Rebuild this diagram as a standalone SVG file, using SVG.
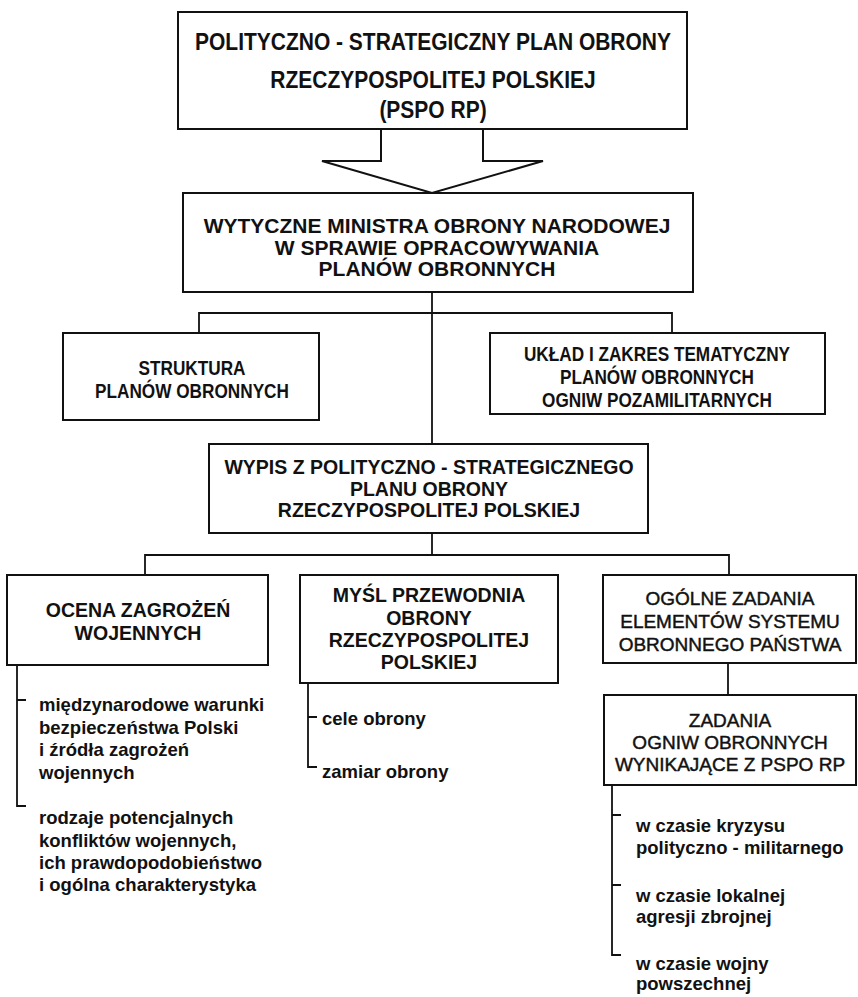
<svg xmlns="http://www.w3.org/2000/svg" width="858" height="997" viewBox="0 0 858 997">
<style>
.box{fill:#fff;stroke:#111;stroke-width:2}
.conn{fill:none;stroke:#111;stroke-width:1.8}
.h{font-family:"Liberation Sans",Arial,sans-serif;font-weight:bold;fill:#111;text-anchor:middle}
.n{font-family:"Liberation Sans",Arial,sans-serif;font-weight:bold;fill:#111;text-anchor:middle;font-size:20px}
.r{font-family:"Liberation Sans",Arial,sans-serif;font-weight:normal;fill:#111;stroke:#111;stroke-width:0.45;text-anchor:middle;font-size:19px}
.l{font-family:"Liberation Sans",Arial,sans-serif;font-weight:bold;fill:#111;font-size:18.5px}
</style>
<rect width="858" height="997" fill="#fff"/>
<g id="connectors">
<polyline class="box" points="381,129 381,161 322,161 432,193 543,161 483,161 483,129"/>
<path class="conn" d="M432,292 V444"/>
<path class="conn" d="M199,333 V313 H672 V333"/>
<path class="conn" d="M432,533 V555"/>
<path class="conn" d="M145,575 V555 H729 V575"/>
<path class="conn" d="M728,663 V695"/>
<path class="conn" d="M17,665 V806 H26 M17,700 H26"/>
<path class="conn" d="M308,683 V767 H317 M308,717 H317"/>
<path class="conn" d="M612,785 V955 H621 M612,815 H621 M612,885 H621"/>
</g>
<g id="pspo">
<rect class="box" x="178" y="12" width="509" height="117"/>
<text class="h" font-size="21" transform="translate(433,50) scale(1,1.15)">POLITYCZNO - STRATEGICZNY PLAN OBRONY</text>
<text class="h" font-size="21" transform="translate(433,88) scale(1,1.15)">RZECZYPOSPOLITEJ POLSKIEJ</text>
<text class="h" font-size="21" transform="translate(433,118) scale(1,1.15)">(PSPO RP)</text>
</g>
<g id="wytyczne">
<rect class="box" x="183" y="193" width="510" height="99"/>
<text class="h" font-size="21" x="437" y="233">WYTYCZNE MINISTRA OBRONY NARODOWEJ</text>
<text class="h" font-size="21" x="437" y="255">W SPRAWIE OPRACOWYWANIA</text>
<text class="h" font-size="21" x="437" y="276">PLANÓW OBRONNYCH</text>
</g>
<g id="struktura">
<rect class="box" x="63" y="333" width="256" height="87"/>
<text class="n" transform="translate(192,375) scale(0.86,1)">STRUKTURA</text>
<text class="n" transform="translate(192,398) scale(0.86,1)">PLANÓW OBRONNYCH</text>
</g>
<g id="uklad">
<rect class="box" x="490" y="333" width="335" height="81"/>
<text class="n" transform="translate(657,361) scale(0.86,1)">UKŁAD I ZAKRES TEMATYCZNY</text>
<text class="n" transform="translate(657,384) scale(0.86,1)">PLANÓW OBRONNYCH</text>
<text class="n" transform="translate(657,407) scale(0.86,1)">OGNIW POZAMILITARNYCH</text>
</g>
<g id="wypis">
<rect class="box" x="209" y="444" width="439" height="89"/>
<text class="h" font-size="19.5" x="429" y="474">WYPIS Z POLITYCZNO - STRATEGICZNEGO</text>
<text class="h" font-size="19.5" x="429" y="496">PLANU OBRONY</text>
<text class="h" font-size="19.5" x="429" y="517">RZECZYPOSPOLITEJ POLSKIEJ</text>
</g>
<g id="ocena">
<rect class="box" x="7" y="575" width="261" height="90"/>
<text class="h" font-size="19.5" x="138" y="617">OCENA ZAGROŻEŃ</text>
<text class="h" font-size="19.5" x="138" y="640">WOJENNYCH</text>
<text class="l" x="39" y="711">międzynarodowe warunki</text>
<text class="l" x="39" y="734">bezpieczeństwa Polski</text>
<text class="l" x="39" y="756">i źródła zagrożeń</text>
<text class="l" x="39" y="779">wojennych</text>
<text class="l" x="39" y="824">rodzaje potencjalnych</text>
<text class="l" x="39" y="847">konfliktów wojennych,</text>
<text class="l" x="39" y="869">ich prawdopodobieństwo</text>
<text class="l" x="39" y="891">i ogólna charakterystyka</text>
</g>
<g id="mysl">
<rect class="box" x="300" y="575" width="258" height="108"/>
<text class="h" font-size="19.5" x="429" y="602">MYŚL PRZEWODNIA</text>
<text class="h" font-size="19.5" x="429" y="625">OBRONY</text>
<text class="h" font-size="19.5" x="429" y="647">RZECZYPOSPOLITEJ</text>
<text class="h" font-size="19.5" x="429" y="669">POLSKIEJ</text>
<text class="l" x="322" y="725">cele obrony</text>
<text class="l" x="322" y="778">zamiar obrony</text>
</g>
<g id="ogolne">
<rect class="box" x="603" y="575" width="253" height="88"/>
<text class="r" x="730" y="605">OGÓLNE ZADANIA</text>
<text class="r" x="730" y="628">ELEMENTÓW SYSTEMU</text>
<text class="r" x="730" y="651">OBRONNEGO PAŃSTWA</text>
</g>
<g id="zadania">
<rect class="box" x="604" y="695" width="252" height="90"/>
<text class="r" x="730" y="727">ZADANIA</text>
<text class="r" x="730" y="749">OGNIW OBRONNYCH</text>
<text class="r" x="730" y="771">WYNIKAJĄCE Z PSPO RP</text>
<text class="l" x="636" y="832">w czasie kryzysu</text>
<text class="l" x="636" y="854">polityczno - militarnego</text>
<text class="l" x="636" y="902">w czasie lokalnej</text>
<text class="l" x="636" y="923">agresji zbrojnej</text>
<text class="l" x="636" y="970">w czasie wojny</text>
<text class="l" x="636" y="990">powszechnej</text>
</g>
</svg>
